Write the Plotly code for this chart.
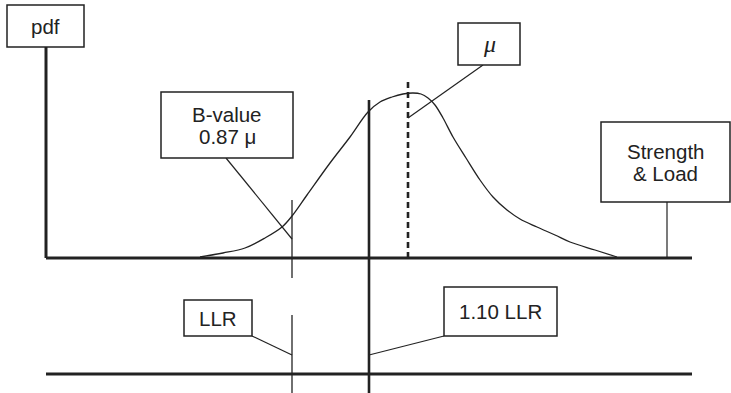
import plotly.graph_objects as go

# ---- data (diagram units: x to the right, y = pdf height above the strength axis) ----
curve_x = [200, 223, 245, 265, 282, 292, 307, 330, 350, 368, 380, 392, 403, 413, 421, 428,
           435, 443, 453, 466, 480, 493, 507, 520, 537, 555, 570, 595, 617]
curve_y = [1, 5, 10, 20, 31, 42, 63, 95, 121, 146, 156, 161, 164, 165, 164, 160,
           153, 140, 121, 100, 78, 61, 48, 39, 31, 23, 16, 8, 1]

axis_x = [46, 692]
pdf_axis_top = 211
load_axis_y = -116
b_value_x = 292
llr110_x = 369
mu_x = 408
mu_top = 176
bottom_y = -135

labels = [["pdf"], ["B-value", "0.87 μ"], ["<i>μ</i>"], ["Strength", "& Load"], ["LLR"], ["1.10 LLR"]]
boxes = [  # x0, x1, y0, y1
    (7, 84, 211, 253),
    (161, 293, 100, 166),
    (458, 520, 193, 235),
    (601, 730, 56, 136),
    (184, 252, -78, -42),
    (444, 557, -78, -29),
]
leaders = [  # (x0, y0, x1, y1)
    (226, 100, 292, 19),
    (483, 193, 408, 140),
    (667, 56, 667, 0),
    (252, -78, 292, -97),
    (444, -78, 369, -97),
]

INK = "#222222"
fig = go.Figure()

# pdf curve
fig.add_trace(go.Scatter(x=curve_x, y=curve_y, mode="lines",
                         line=dict(color=INK, width=1.3, shape="spline", smoothing=1.0),
                         hoverinfo="skip", showlegend=False))

shapes = []
# axes
shapes.append(dict(type="line", x0=axis_x[0], x1=axis_x[0], y0=0, y1=pdf_axis_top,
                   line=dict(color=INK, width=3)))
shapes.append(dict(type="line", x0=axis_x[0], x1=axis_x[1], y0=0, y1=0,
                   line=dict(color=INK, width=3)))
shapes.append(dict(type="line", x0=axis_x[0], x1=axis_x[1], y0=load_axis_y, y1=load_axis_y,
                   line=dict(color=INK, width=3)))
# B-value line (broken)
shapes.append(dict(type="line", x0=b_value_x, x1=b_value_x, y0=58, y1=-20,
                   line=dict(color=INK, width=1.3)))
shapes.append(dict(type="line", x0=b_value_x, x1=b_value_x, y0=-57, y1=bottom_y,
                   line=dict(color=INK, width=1.3)))
# 1.10 LLR line
shapes.append(dict(type="line", x0=llr110_x, x1=llr110_x, y0=158, y1=bottom_y,
                   line=dict(color=INK, width=2.6)))
# mean dashed line
shapes.append(dict(type="line", x0=mu_x, x1=mu_x, y0=mu_top, y1=0,
                   line=dict(color=INK, width=2.6, dash="6px,4px")))
# leaders
for x0, y0, x1, y1 in leaders:
    shapes.append(dict(type="line", x0=x0, y0=y0, x1=x1, y1=y1,
                       line=dict(color=INK, width=1.2)))
# boxes
for (x0, x1, y0, y1) in boxes:
    shapes.append(dict(type="rect", x0=x0, x1=x1, y0=y0, y1=y1,
                       line=dict(color=INK, width=1.5), fillcolor="white"))

annotations = []
LINE_GAP = 22
for lines, (x0, x1, y0, y1) in zip(labels, boxes):
    cx, cy = (x0 + x1) / 2, (y0 + y1) / 2
    n = len(lines)
    for i, lab in enumerate(lines):
        italic = lab.startswith("<i>")
        fam = "Liberation Serif" if italic else "Liberation Sans"
        y = cy + (n - 1) / 2 * LINE_GAP - i * LINE_GAP
        annotations.append(dict(x=cx, y=y, text=lab, showarrow=False,
                                font=dict(family=fam, size=24 if italic else 20.5, color=INK),
                                xanchor="center", yanchor="middle"))

fig.update_layout(
    width=731, height=393,
    margin=dict(l=0, r=0, t=0, b=0),
    paper_bgcolor="white", plot_bgcolor="white",
    xaxis=dict(range=[0, 731], visible=False, fixedrange=True),
    yaxis=dict(range=[-135, 258], visible=False, fixedrange=True),
    shapes=shapes, annotations=annotations, showlegend=False,
)
fig.write_html("out.html", config={"displayModeBar": False},
               post_script="document.body.style.margin='0';document.body.style.overflow='hidden';")
